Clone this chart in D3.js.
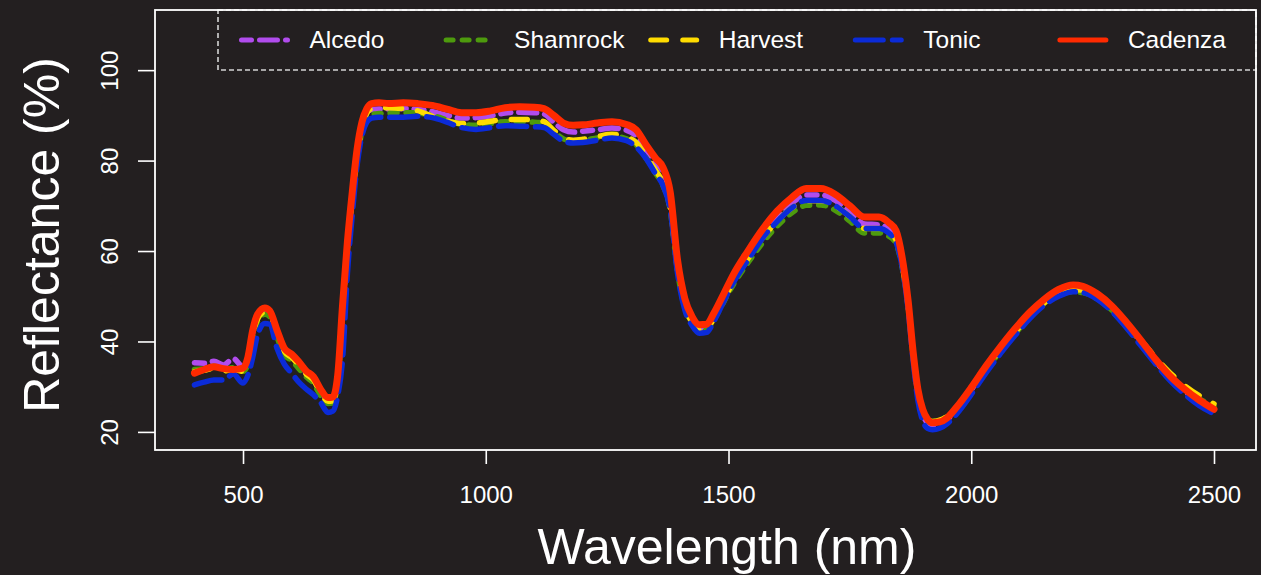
<!DOCTYPE html>
<html>
<head>
<meta charset="utf-8">
<script src="https://cdn.jsdelivr.net/npm/d3@7"></script>
<style>
  html, body { margin: 0; padding: 0; background: #231f20; }
  svg { display: block; }
  text { font-family: "Liberation Sans", Arial, Helvetica, sans-serif; fill: #ffffff; }
</style>
</head>
<body>
<svg id="chart" width="1261" height="575"></svg>
<script>
// Wavelengths (nm) at which the canopy spectra are sampled
const wavelengths = [
  400, 420, 440, 460, 480, 500, 510, 520, 530, 545,
  555, 570, 585, 600, 615, 630, 645, 660, 675, 685,
  695, 705, 715, 725, 735, 745, 755, 765, 780, 800,
  830, 860, 890, 920, 950, 980, 1010, 1040, 1070, 1100,
  1120, 1140, 1160, 1180, 1200, 1230, 1260, 1290, 1310, 1330,
  1350, 1365, 1380, 1395, 1410, 1425, 1440, 1455, 1470, 1490,
  1510, 1540, 1570, 1600, 1630, 1660, 1690, 1720, 1750, 1780,
  1810, 1830, 1845, 1860, 1870, 1880, 1890, 1900, 1910, 1920,
  1935, 1950, 1970, 2000, 2030, 2060, 2090, 2120, 2150, 2180,
  2210, 2230, 2260, 2290, 2320, 2350, 2380, 2410, 2440, 2470,
  2500
];

// Reflectance (%) per cultivar
const alcedo = [
  35.3, 35.2, 35.6, 34.8, 36.2, 34.4, 36.2, 42.0, 45.5, 46.8,
  46.3, 42.0, 38.0, 36.7, 35.0, 33.0, 31.7, 29.0, 27.2, 27.3,
  32.0, 47.0, 61.0, 72.0, 81.5, 87.5, 90.5, 91.3, 91.4, 91.4,
  91.5, 91.3, 90.8, 90.0, 89.4, 89.5, 89.9, 90.5, 90.7, 90.6,
  90.3, 88.5, 86.8, 86.3, 86.5, 86.8, 87.2, 86.7, 85.5, 82.5,
  79.5, 77.5, 72.0, 57.0, 48.8, 44.8, 43.0, 43.2, 45.7, 49.8,
  54.0, 59.2, 63.9, 67.7, 70.6, 72.4, 72.4, 71.2, 68.7, 66.0,
  65.8, 65.0, 63.2, 56.0, 48.0, 37.0, 28.5, 24.0, 22.0, 21.5,
  21.8, 22.7, 25.0, 29.3, 34.0, 38.3, 42.3, 45.9, 48.8, 50.9,
  51.9, 51.6, 50.0, 47.3, 43.7, 39.7, 35.6, 31.9, 29.0, 26.6,
  25.0
];
const shamrock = [
  33.8, 34.0, 34.5, 33.8, 34.2, 33.4, 35.0, 40.5, 44.5, 46.0,
  45.5, 41.0, 37.0, 35.8, 34.0, 32.2, 30.8, 28.0, 26.3, 26.4,
  31.0, 45.0, 60.0, 71.0, 80.0, 86.5, 89.3, 90.2, 90.4, 90.5,
  90.6, 90.5, 90.0, 89.0, 88.0, 87.8, 88.2, 88.6, 88.6, 88.5,
  88.2, 86.5, 84.8, 84.3, 84.5, 85.0, 85.4, 84.8, 83.5, 80.6,
  77.2, 74.5, 69.0, 55.5, 47.5, 44.0, 42.3, 42.5, 44.8, 48.7,
  52.6, 57.4, 61.8, 65.5, 68.4, 70.1, 70.2, 69.0, 66.6, 64.0,
  64.0, 63.3, 61.6, 55.0, 47.5, 37.0, 28.5, 24.3, 22.5, 22.3,
  22.6, 23.3, 25.2, 29.2, 33.7, 37.8, 41.7, 45.3, 48.2, 50.2,
  51.0, 50.8, 49.4, 46.9, 43.5, 39.6, 35.7, 32.3, 29.5, 27.3,
  25.6
];
const harvest = [
  33.3, 33.6, 34.1, 33.5, 33.8, 33.4, 35.5, 41.5, 45.0, 46.5,
  46.0, 41.8, 37.8, 36.5, 34.8, 32.8, 31.5, 28.6, 26.8, 26.9,
  31.5, 46.0, 61.0, 72.0, 81.0, 87.5, 90.5, 91.5, 91.7, 91.7,
  91.5, 91.0, 89.8, 88.8, 88.2, 88.3, 88.7, 89.1, 89.1, 89.0,
  88.6, 86.7, 85.0, 84.5, 84.7, 85.3, 85.8, 85.2, 84.0, 81.0,
  77.8, 75.0, 69.5, 56.0, 48.0, 44.2, 42.5, 42.7, 45.2, 49.2,
  53.3, 58.3, 62.9, 66.6, 69.5, 71.1, 71.1, 70.0, 67.6, 65.0,
  65.0, 64.2, 62.5, 55.5, 48.0, 37.5, 29.0, 24.5, 22.6, 22.3,
  22.6, 23.4, 25.4, 29.4, 33.9, 38.0, 42.0, 45.6, 48.5, 50.6,
  51.5, 51.3, 49.9, 47.4, 44.0, 40.2, 36.4, 33.0, 30.2, 28.0,
  26.2
];
const tonic = [
  30.4, 31.0, 31.5, 31.5, 32.8, 30.8, 32.5, 36.5, 41.5, 44.0,
  43.8, 38.5, 35.0, 33.0, 31.0, 29.5, 28.2, 26.5, 24.3, 24.6,
  28.0, 36.0, 55.0, 68.0, 79.0, 85.5, 88.5, 89.4, 89.6, 89.6,
  89.6, 89.8, 89.5, 88.5, 87.3, 86.9, 87.3, 87.7, 87.6, 87.5,
  87.3, 85.8, 84.3, 83.9, 84.0, 84.5, 85.0, 84.4, 83.0, 80.5,
  77.0, 74.5, 69.0, 55.0, 47.0, 43.5, 41.8, 42.0, 44.5, 48.8,
  53.0, 58.0, 62.8, 66.5, 69.5, 71.2, 71.2, 70.0, 67.6, 65.0,
  65.0, 64.0, 62.0, 55.0, 47.0, 36.0, 27.0, 22.5, 20.8, 20.5,
  20.8, 21.8, 24.0, 28.3, 33.0, 37.3, 41.3, 45.0, 48.0, 50.0,
  51.0, 50.8, 49.3, 46.6, 43.0, 39.0, 35.0, 31.3, 28.3, 25.8,
  24.0
];
const cadenza = [
  33.0, 33.8, 34.4, 34.0, 33.8, 34.1, 36.5, 42.5, 46.0, 47.4,
  46.8, 42.5, 38.5, 37.2, 35.5, 33.5, 32.2, 29.4, 27.6, 27.7,
  32.5, 48.0, 62.0, 73.0, 82.5, 88.5, 91.5, 92.6, 92.8, 92.6,
  92.8, 92.6, 92.2, 91.4, 90.6, 90.6, 91.0, 91.7, 91.9, 91.8,
  91.5, 90.0, 88.3, 87.8, 87.9, 88.3, 88.6, 88.0, 86.8, 83.5,
  80.5, 78.5, 73.0, 58.0, 49.5, 45.5, 43.7, 43.8, 46.3, 50.5,
  54.8, 60.0, 64.8, 68.8, 71.8, 73.8, 73.8, 72.5, 70.0, 67.5,
  67.5, 66.3, 64.5, 57.0, 49.0, 38.0, 29.5, 25.0, 22.8, 22.0,
  22.2, 23.1, 25.5, 29.8, 34.5, 38.8, 42.8, 46.4, 49.3, 51.5,
  52.5, 52.2, 50.5, 47.8, 44.2, 40.2, 36.0, 32.3, 29.4, 27.0,
  25.0
];

const seriesNames = ["Alcedo", "Shamrock", "Harvest", "Tonic", "Cadenza"];
const seriesValues = [alcedo, shamrock, harvest, tonic, cadenza];
const xTicks = [500, 1000, 1500, 2000, 2500];
const yTicks = [20, 40, 60, 80, 100];

// Styling per series
const colors = ["#b14ced", "#4d9a0d", "#ffdc00", "#0b2bd8", "#ff2a00"];
const dashes = ["10 8 18 8", "7 9", "16 16", "28 9", null];

const svg = d3.select("#chart");
const W = 1261, H = 575;
const plot = { left: 155, right: 1256, top: 10, bottom: 450 };

svg.append("rect").attr("width", W).attr("height", H).attr("fill", "#231f20");

const x = d3.scaleLinear().domain([318.7, 2586.5]).range([plot.left, plot.right]);
const y = d3.scaleLinear().domain([16, 113.3]).range([plot.bottom, plot.top]);

// Legend frame (dashed) – drawn first so the plot border sits over its shared edges
svg.append("rect")
  .attr("x", 218).attr("y", plot.top)
  .attr("width", plot.right - 218).attr("height", 70 - plot.top)
  .attr("fill", "none")
  .attr("stroke", "#d4d4d4")
  .attr("stroke-width", 1.6)
  .attr("stroke-dasharray", "5 3");

// Spectra
const line = d3.line()
  .x((d, i) => x(wavelengths[i]))
  .y(d => y(d))
  .curve(d3.curveMonotoneX);

const lines = svg.append("g");
seriesValues.forEach((vals, i) => {
  lines.append("path")
    .datum(vals)
    .attr("d", line)
    .attr("fill", "none")
    .attr("stroke", colors[i])
    .attr("stroke-width", i === 4 ? 7 : 5.5)
    .attr("stroke-linecap", "round")
    .attr("stroke-linejoin", "round")
    .attr("stroke-dasharray", dashes[i]);
});

// Plot border
svg.append("rect")
  .attr("x", plot.left).attr("y", plot.top)
  .attr("width", plot.right - plot.left).attr("height", plot.bottom - plot.top)
  .attr("fill", "none")
  .attr("stroke", "#ffffff")
  .attr("stroke-width", 1.8);

// X axis
const gx = svg.append("g")
  .attr("transform", `translate(0,${plot.bottom})`)
  .call(d3.axisBottom(x).tickValues(xTicks).tickSize(14).tickFormat(d3.format("d")));
gx.select(".domain").remove();
gx.selectAll(".tick line").attr("stroke", "#ffffff").attr("stroke-width", 1.6);
gx.selectAll(".tick text")
  .attr("y", 53).attr("dy", 0)
  .attr("font-size", 24)
  .attr("fill", "#ffffff")
  .style("font-family", "'Liberation Sans', Arial, sans-serif");

// Y axis (labels run parallel to the axis)
const gy = svg.append("g")
  .attr("transform", `translate(${plot.left},0)`)
  .call(d3.axisLeft(y).tickValues(yTicks).tickSize(17));
gy.select(".domain").remove();
gy.selectAll(".tick line").attr("stroke", "#ffffff").attr("stroke-width", 1.6);
gy.selectAll(".tick text")
  .attr("transform", "rotate(-90)")
  .attr("x", 0).attr("y", -37).attr("dy", 0)
  .attr("text-anchor", "middle")
  .attr("font-size", 24)
  .attr("fill", "#ffffff")
  .style("font-family", "'Liberation Sans', Arial, sans-serif");

// Axis titles
svg.append("text")
  .attr("x", 727).attr("y", 564)
  .attr("text-anchor", "middle")
  .attr("font-size", 50)
  .text("Wavelength (nm)");

svg.append("text")
  .attr("transform", "translate(59,235) rotate(-90)")
  .attr("text-anchor", "middle")
  .attr("font-size", 50)
  .text("Reflectance (%)");

// Legend entries
const legend = svg.append("g");
seriesNames.forEach((name, i) => {
  const x0 = 241.5 + i * 204.6;
  legend.append("line")
    .attr("x1", x0).attr("x2", x0 + 46)
    .attr("y1", 40).attr("y2", 40)
    .attr("stroke", colors[i])
    .attr("stroke-width", 5)
    .attr("stroke-linecap", "round")
    .attr("stroke-dasharray", dashes[i]);
  legend.append("text")
    .attr("x", x0 + 68).attr("y", 48)
    .attr("font-size", 24.5)
    .text(name);
});
</script>
</body>
</html>
